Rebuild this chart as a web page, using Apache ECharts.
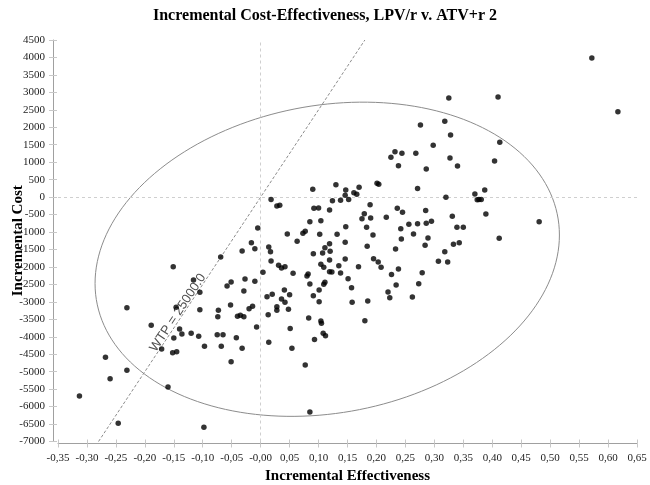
<!DOCTYPE html>
<html>
<head>
<meta charset="utf-8">
<script src="https://cdn.jsdelivr.net/npm/echarts@6/dist/echarts.min.js"></script>
<style>html,body{margin:0;padding:0;background:#fff;}#c{width:650px;height:485px;}</style>
</head>
<body>
<div id="c"></div>
<script>
const effectiveness = [-0.069,-0.032,-0.151,-0.116,-0.105,-0.058,-0.051,-0.027,-0.029,-0.231,-0.146,-0.105,-0.073,-0.074,-0.052,-0.040,-0.035,-0.029,-0.020,-0.189,-0.140,-0.150,-0.136,-0.120,-0.107,-0.075,-0.065,-0.042,-0.097,-0.068,-0.032,-0.171,-0.152,-0.145,-0.051,-0.268,-0.231,-0.260,-0.160,-0.313,-0.246,-0.098,0.232,0.225,0.238,0.130,0.090,0.147,0.201,0.204,0.170,0.161,0.166,0.146,0.018,0.124,0.138,0.152,0.028,0.033,0.189,0.236,0.092,0.100,0.119,0.179,0.175,0.190,0.217,0.085,0.104,-0.005,0.183,0.147,0.046,0.073,0.077,0.102,0.132,0.194,-0.016,0.063,0.119,0.146,-0.010,0.014,0.017,0.111,0.120,0.184,0.233,0.107,0.091,0.018,0.119,0.146,0.195,0.203,0.208,0.238,0.104,0.109,0.031,0.036,0.042,0.135,0.169,0.004,0.056,0.082,0.080,0.119,0.123,0.138,0.226,-0.010,0.085,0.109,0.111,0.151,0.157,0.234,0.011,0.020,0.041,0.050,0.091,0.101,0.220,0.223,0.036,-0.014,0.013,0.028,0.028,0.042,0.048,0.083,0.101,0.104,0.105,0.158,0.185,0.180,-0.007,0.014,0.051,0.054,0.093,0.108,0.112,0.077,0.085,0.276,0.318,0.328,0.298,0.413,0.244,0.268,0.327,0.404,0.286,0.340,0.271,0.320,0.370,0.387,0.374,0.377,0.381,0.389,0.245,0.285,0.331,0.242,0.256,0.271,0.286,0.295,0.339,0.350,0.264,0.243,0.289,0.284,0.333,0.343,0.412,0.318,0.307,0.323,0.279,0.273,0.262,0.572,0.617,0.481,0.325,0.410];
const cost = [-1715,-1545,-1995,-2375,-2725,-2545,-2430,-2345,-2690,-3170,-3155,-3225,-3240,-3425,-3090,-3415,-3385,-3425,-3195,-3670,-3780,-4035,-3920,-3900,-3985,-3940,-3940,-4025,-4275,-4275,-4330,-4350,-4455,-4430,-4715,-4590,-4960,-5200,-5440,-5695,-6480,-6595,1300,1140,900,355,225,205,395,365,280,125,80,50,-65,-105,-90,-65,-255,-235,-220,-320,-320,-310,-370,-475,-620,-600,-580,-705,-675,-885,-865,-850,-1055,-1035,-980,-1065,-1065,-1085,-1305,-1265,-1335,-1295,-1480,-1430,-1565,-1450,-1550,-1410,-1485,-1600,-1620,-1830,-1800,-1775,-1765,-1860,-2010,-2060,-1925,-2010,-1955,-2030,-1995,-1965,-1995,-2155,-2180,-2200,-2260,-2135,-2145,-2175,-2220,-2410,-2490,-2495,-2440,-2335,-2595,-2515,-2855,-2785,-2660,-2795,-2825,-2660,-2720,-2880,-2920,-3125,-3370,-3140,-3240,-3015,-3215,-3465,-2995,-3550,-3615,-3015,-2975,-3540,-3720,-4160,-3760,-4330,-4075,-3900,-3970,-4810,-6155,2065,2170,1780,1485,1570,1255,1255,1120,1035,805,890,250,-5,90,205,-75,-65,-65,-485,-435,-380,-550,-905,-780,-760,-750,-695,-865,-865,-1055,-1200,-1170,-1380,-1350,-1305,-1180,-1565,-1840,-1860,-2165,-2480,-2860,3985,2445,-705,2840,2865];

const xTickValues = [-0.35,-0.30,-0.25,-0.20,-0.15,-0.10,-0.05,0.00,0.05,0.10,0.15,0.20,0.25,0.30,0.35,0.40,0.45,0.50,0.55,0.60,0.65];
const xTickLabels = ['-0,35','-0,30','-0,25','-0,20','-0,15','-0,10','-0,05','-0,00','0,05','0,10','0,15','0,20','0,25','0,30','0,35','0,40','0,45','0,50','0,55','0,60','0,65'];

const wtpValue = 25000;
const wtpRange = [-0.28, 0.18];
const wtpLabel = 'WTP = 25000.0';
const wtpLabelAt = -0.129;

const ellipseCenter = [0.115, -1780];
const ellipseRadii = [0.401, 4500];
const ellipsePhase = 1.416;

const scatterData = effectiveness.map((x, i) => [x, cost[i]]);
const ellipseData = [];
for (let k = 0; k <= 180; k++) {
  const t = 2 * Math.PI * k / 180;
  ellipseData.push([ellipseCenter[0] + ellipseRadii[0] * Math.cos(t),
                    ellipseCenter[1] + ellipseRadii[1] * Math.cos(t + ellipsePhase)]);
}
const wtpData = wtpRange.map(x => [x, x * wtpValue]);

function xLabel(v) {
  let best = 0, d = 1e9;
  xTickValues.forEach((tv, i) => { const dd = Math.abs(tv - v); if (dd < d) { d = dd; best = i; } });
  return xTickLabels[best];
}

const serif = '"Liberation Serif", "Times New Roman", serif';
const axisGray = '#a0a0a0';

const chart = echarts.init(document.getElementById('c'), null, {renderer: 'canvas'});
chart.setOption({
  animation: false,
  backgroundColor: '#fff',
  title: {
    text: 'Incremental Cost-Effectiveness, LPV/r v. ATV+r 2',
    left: 'center', top: 3,
    textStyle: {fontFamily: serif, fontWeight: 'bold', fontSize: 16, color: '#000'}
  },
  grid: {left: 58, right: 13, top: 40, bottom: 43.5, containLabel: false, outerBoundsMode: 'none'},
  xAxis: [{
    type: 'value', min: -0.35, max: 0.65, interval: 0.05, offset: 2,
    name: 'Incremental Effectiveness', nameLocation: 'middle', nameGap: 25,
    nameTextStyle: {fontFamily: serif, fontWeight: 'bold', fontSize: 15, color: '#000'},
    axisLine: {show: true, onZero: false, lineStyle: {color: axisGray, width: 1}},
    axisTick: {show: true, length: 4, lineStyle: {color: '#c8c8c8'}},
    axisLabel: {fontFamily: serif, fontSize: 11, color: '#222', margin: 9, formatter: xLabel},
    splitLine: {show: false}
  }, {
    type: 'value', min: -0.35, max: 0.65, interval: 0.05, offset: 2, position: 'bottom',
    axisLine: {show: false, onZero: false}, axisLabel: {show: false}, splitLine: {show: false},
    axisTick: {show: true, inside: true, length: 4, lineStyle: {color: '#c8c8c8'}}
  }],
  yAxis: [{
    type: 'value', min: -7000, max: 4500, interval: 500, offset: 5,
    name: 'Incremental Cost', nameLocation: 'middle', nameGap: 27, nameMoveOverlap: false,
    nameTextStyle: {fontFamily: serif, fontWeight: 'bold', fontSize: 15, color: '#000'},
    axisLine: {show: true, onZero: false, lineStyle: {color: axisGray, width: 1}},
    axisTick: {show: true, length: 4, lineStyle: {color: '#c8c8c8'}},
    axisLabel: {fontFamily: serif, fontSize: 11, color: '#222', margin: 8, formatter: v => String(v)},
    splitLine: {show: false}
  }, {
    type: 'value', min: -7000, max: 4500, interval: 500, offset: 5, position: 'left',
    axisLine: {show: false, onZero: false}, axisLabel: {show: false}, splitLine: {show: false},
    axisTick: {show: true, inside: true, length: 4, lineStyle: {color: '#c8c8c8'}}
  }],
  series: [
    {
      type: 'line', data: ellipseData, showSymbol: false, symbol: 'none', smooth: false,
      lineStyle: {color: '#8c8c8c', width: 1}, z: 2, silent: true,
      markLine: {
        silent: true, symbol: 'none', label: {show: false},
        lineStyle: {color: '#cfcfcf', type: [3, 3], width: 1},
        data: [{xAxis: 0}, {yAxis: 0}]
      }
    },
    {
      type: 'line', data: wtpData, showSymbol: false, symbol: 'none',
      lineStyle: {color: '#8c8c8c', width: 1, type: [3, 2]}, z: 3, silent: true
    },
    {
      type: 'scatter', data: [[wtpLabelAt, wtpLabelAt * wtpValue]], symbolSize: 0, z: 4, silent: true,
      label: {show: true, formatter: wtpLabel, position: 'inside', rotate: 56.4, offset: [-7, -5],
        fontFamily: '"Liberation Sans", Arial, sans-serif', fontSize: 13, color: '#222'}
    },
    {
      type: 'scatter', data: scatterData, symbol: 'circle', symbolSize: 5.5,
      itemStyle: {color: '#000'}, z: 5
    }
  ]
});
</script>
</body>
</html>
